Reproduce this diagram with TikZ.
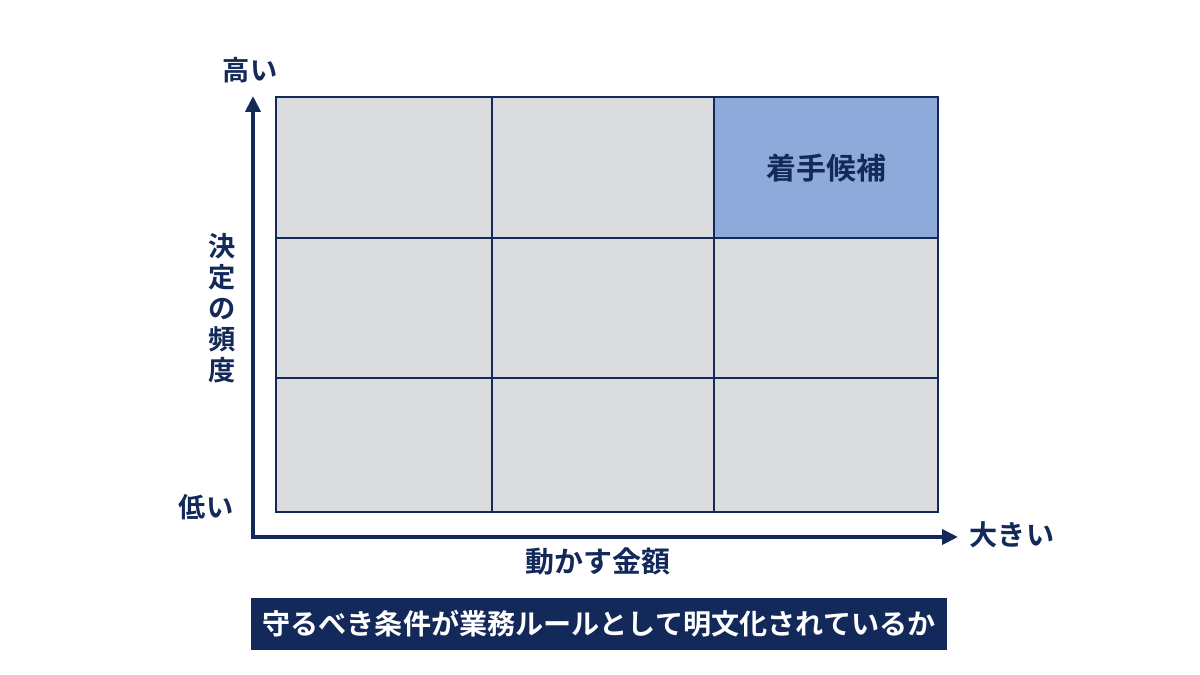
\documentclass[tikz,border=0pt]{standalone}
\usepackage{fontspec}
\setmainfont{Noto Sans CJK JP}[BoldFont={Noto Sans CJK JP Bold}]
\usetikzlibrary{arrows.meta,positioning}
\definecolor{navy}{HTML}{12295A}
\definecolor{cellgray}{HTML}{DADBDC}
\definecolor{pickblue}{HTML}{8EAADB}
\tikzset{
	cell/.style={draw=navy, line width=1.4pt, fill=cellgray, inner sep=0pt},
	axis/.style={draw=navy, line width=2.2pt, -{Triangle[length=0.32cm,width=0.3cm]}},
	lbl/.style={text=navy, font=\bfseries\fontsize{15.5}{16}\selectfont}
}
\begin{document}
\begin{tikzpicture}[x=0.02cm,y=-0.02cm]
	\useasboundingbox (0,0) rectangle (1200,675);
	% 3x3 grid
	\foreach \c/\x/\w in {0/275/216, 1/491/222, 2/713/224} {
		\foreach \r/\y/\h in {0/96/141, 1/237/140, 2/377/134} {
			\node[cell, anchor=north west, minimum width=\w*0.02cm, minimum height=\h*0.02cm] (c\c\r) at (\x,\y) {};
		}
	}
	\node[cell, fill=pickblue, anchor=north west, minimum width=4.48cm, minimum height=2.82cm] (pick) at (c20.north west) {};
	\node[lbl, font=\bfseries\fontsize{17}{18}\selectfont] at (pick) {着手候補};
	% axes
	\coordinate (origin) at (253,537);
	\coordinate (ytop) at (253,96);
	\coordinate (xend) at (958,537);
	\draw[axis] (origin) -- (ytop);
	\draw[axis] ([xshift=-1.1pt]origin) -- (xend);
	\node[lbl] (high) at (250,70) {高い};
	\node[lbl] (low) at (206,507) {低い};
	\node[lbl, font=\bfseries\fontsize{16}{17}\selectfont] (big) at (1012,535) {大きい};
	\node[lbl, align=center, font=\bfseries\fontsize{15.5}{17.6}\selectfont] (freq) at (222,308) {決\\定\\の\\頻\\度};
	\node[lbl, font=\bfseries\fontsize{16.5}{17}\selectfont] (amount) at (598,562) {動かす金額};
	% bottom banner
	\node[fill=navy, text=white, minimum width=13.92cm, minimum height=1.04cm, font=\bfseries\fontsize{16}{17}\selectfont] (rule) at (599,624) {守るべき条件が業務ルールとして明文化されているか};
\end{tikzpicture}
\end{document}
